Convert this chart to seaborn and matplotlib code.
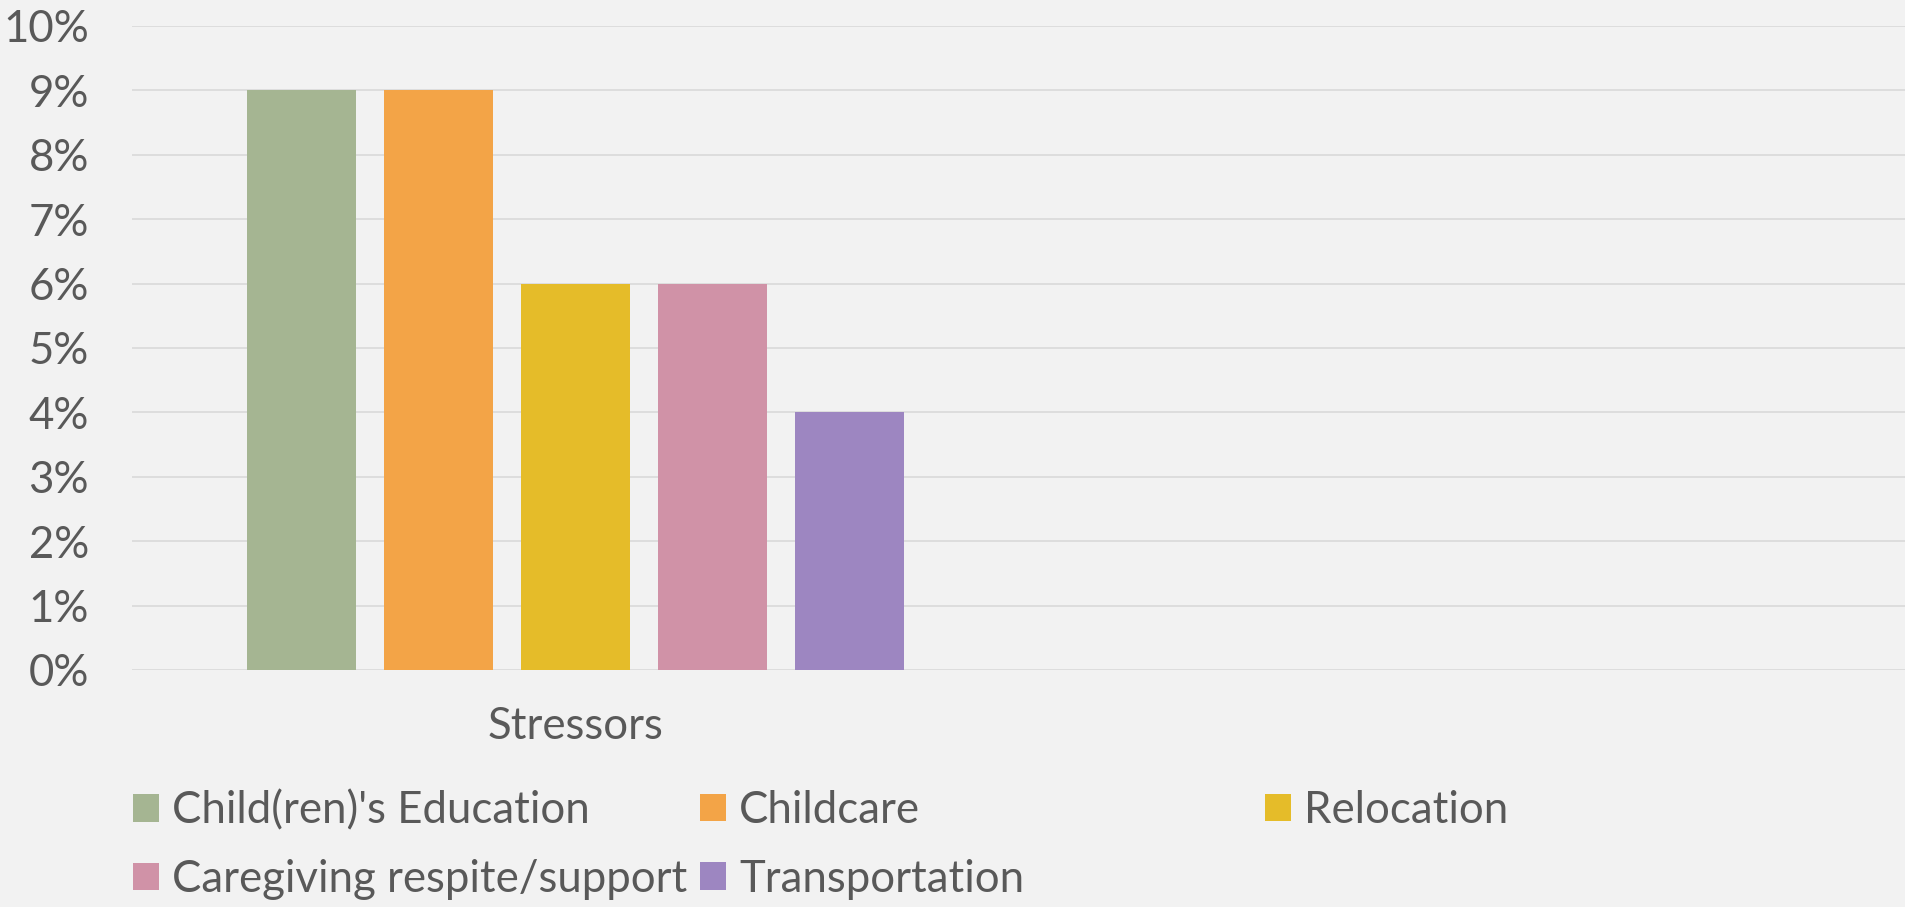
import matplotlib
matplotlib.use("Agg")
import matplotlib.pyplot as plt
import seaborn as sns
import pandas as pd

# Data
category = "Stressors"
stressors = ["Child(ren)'s Education", "Childcare", "Relocation",
             "Caregiving respite/support", "Transportation"]
percent = [9, 9, 6, 6, 4]
y_ticks = [0, 1, 2, 3, 4, 5, 6, 7, 8, 9, 10]
y_tick_labels = [f"{t}%" for t in y_ticks]
colors = ["#A5B592", "#F3A447", "#E5BC29", "#D092A7", "#9D86C1"]

BG = "#F2F2F2"
TEXT = "#595959"
GRID = "#D9D9D9"

sns.set_theme(style="whitegrid")
plt.rcParams["font.family"] = ["Lato", "DejaVu Sans"]

W, H, DPI = 1906, 907, 100
fig = plt.figure(figsize=(W / DPI, H / DPI), dpi=DPI, facecolor=BG)
ax = fig.add_axes([132 / W, 1 - 670 / H, 1 - 132 / W, (670 - 26) / H])
ax.set_facecolor(BG)

df = pd.DataFrame({"category": [category] * len(stressors),
                   "stressor": stressors,
                   "percent": percent})

sns.barplot(data=df, x="category", y="percent", hue="stressor",
            hue_order=stressors, palette=colors, width=0.772, gap=0.21,
            saturation=1, linewidth=0, edgecolor="none", ax=ax, legend=True)

handles, labels = ax.get_legend_handles_labels()
ax.get_legend().remove()

# Axis cosmetics
FS = 31.5
ax.set_xlim(-0.5, 1.5)
ax.set_ylim(0, 10)
ax.set_yticks(y_ticks)
ax.set_yticklabels(y_tick_labels)
ax.set_xlabel("")
ax.set_ylabel("")
ax.tick_params(axis="y", labelsize=FS, colors=TEXT, length=0, pad=31)
ax.tick_params(axis="x", labelsize=FS, colors=TEXT, length=0, pad=26)
ax.grid(axis="y", color=GRID, linewidth=1.2)
ax.grid(axis="x", visible=False)
ax.set_axisbelow(True)
for s in ax.spines.values():
    s.set_visible(False)

# Legend laid out in three evenly spaced columns below the plot
fs_px = FS * DPI / 72
sq = 26 / fs_px
common = dict(frameon=False, fontsize=FS, labelcolor=TEXT, borderpad=0,
              handlelength=sq, handleheight=sq, handletextpad=13 / fs_px,
              labelspacing=0.63, loc="upper left", borderaxespad=0)
columns = [[0, 3], [1, 4], [2]]
col_x = [133, 700, 1265]
top_y = 790
for idx, x0 in zip(columns, col_x):
    leg = fig.legend([handles[i] for i in idx], [labels[i] for i in idx],
                     bbox_to_anchor=(x0 / W, 1 - top_y / H), **common)
    for h in leg.legend_handles:
        h.set_linewidth(0)

fig.savefig("out.png", dpi=DPI, facecolor=BG)
